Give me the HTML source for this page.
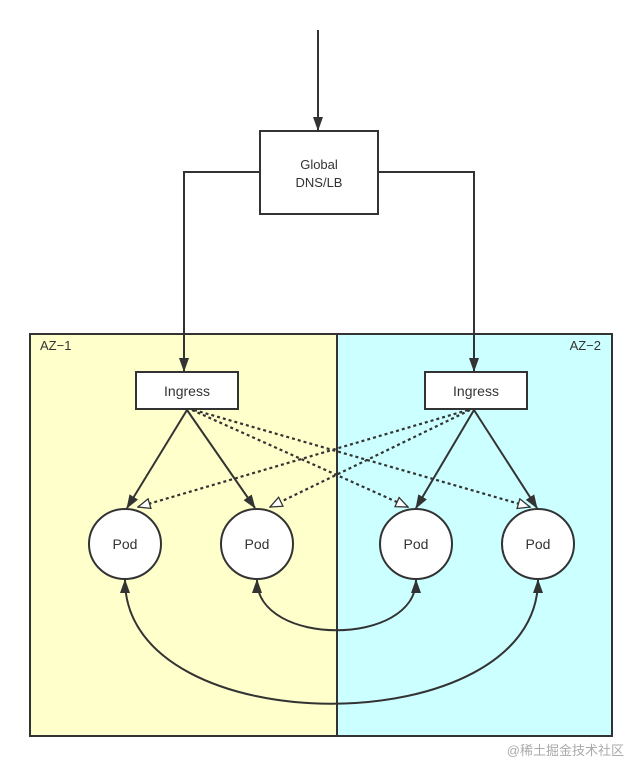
<!DOCTYPE html>
<html><head><style>body{margin:0;background:#fff}</style></head><body>
<svg width="642" height="778" viewBox="0 0 642 778" xmlns="http://www.w3.org/2000/svg" font-family="Liberation Sans, sans-serif">
<defs>
<marker id="s" markerWidth="14" markerHeight="10" refX="13" refY="5" orient="auto-start-reverse" markerUnits="userSpaceOnUse"><path d="M0,0 L14,5 L0,10 Z" fill="#333"/></marker>
<marker id="h" markerWidth="14" markerHeight="12" refX="13" refY="6" orient="auto" markerUnits="userSpaceOnUse"><path d="M1,1 L13,6 L1,11 Z" fill="#fff" stroke="#333" stroke-width="1.3"/></marker>
</defs>
<rect x="30" y="334" width="307" height="402" fill="#ffffcc"/>
<rect x="337" y="334" width="275" height="402" fill="#ccffff"/>
<rect x="30" y="334" width="582" height="402" fill="none" stroke="#333" stroke-width="2"/>
<line x1="337" y1="334" x2="337" y2="736" stroke="#333" stroke-width="2"/>
<text x="40" y="350" font-size="13" fill="#333">AZ−1</text>
<text x="601" y="350" font-size="13" fill="#333" text-anchor="end">AZ−2</text>
<g stroke="#333" stroke-width="2" fill="none">
<line x1="318" y1="30" x2="318" y2="130" marker-end="url(#s)"/>
<polyline points="260,172 184,172 184,371" marker-end="url(#s)"/>
<polyline points="378,172 474,172 474,371" marker-end="url(#s)"/>
<line x1="187" y1="410" x2="127" y2="508" marker-end="url(#s)"/>
<line x1="187" y1="410" x2="255" y2="508" marker-end="url(#s)"/>
<line x1="474" y1="410" x2="416" y2="508" marker-end="url(#s)"/>
<line x1="474" y1="410" x2="537" y2="508" marker-end="url(#s)"/>
</g>
<g stroke="#333" stroke-width="2.2" fill="none" stroke-dasharray="3,3">
<line x1="192" y1="410" x2="408" y2="507" marker-end="url(#h)"/>
<line x1="194" y1="410" x2="530" y2="507" marker-end="url(#h)"/>
<line x1="468" y1="410" x2="138" y2="507" marker-end="url(#h)"/>
<line x1="470" y1="410" x2="270" y2="507" marker-end="url(#h)"/>
</g>
<g stroke="#333" stroke-width="2" fill="none">
<path d="M257,580 C257,647 416,647 416,580" marker-start="url(#s)" marker-end="url(#s)"/>
<path d="M125,580 C125,745 538,745 538,580" marker-start="url(#s)" marker-end="url(#s)"/>
</g>
<rect x="260" y="131" width="118" height="83" fill="#fff" stroke="#333" stroke-width="2"/>
<text x="319" y="169" font-size="13" fill="#333" text-anchor="middle">Global</text>
<text x="319" y="187" font-size="13" fill="#333" text-anchor="middle">DNS/LB</text>
<rect x="136" y="372" width="102" height="37" fill="#fff" stroke="#333" stroke-width="2"/>
<text x="187" y="396" font-size="14" fill="#333" text-anchor="middle">Ingress</text>
<rect x="425" y="372" width="102" height="37" fill="#fff" stroke="#333" stroke-width="2"/>
<text x="476" y="396" font-size="14" fill="#333" text-anchor="middle">Ingress</text>
<g fill="#fff" stroke="#333" stroke-width="2">
<ellipse cx="125" cy="544" rx="36" ry="35"/>
<ellipse cx="257" cy="544" rx="36" ry="35"/>
<ellipse cx="416" cy="544" rx="36" ry="35"/>
<ellipse cx="538" cy="544" rx="36" ry="35"/>
</g>
<g font-size="14" fill="#333" text-anchor="middle">
<text x="125" y="549">Pod</text><text x="257" y="549">Pod</text><text x="416" y="549">Pod</text><text x="538" y="549">Pod</text>
</g>
<text x="624" y="755" font-size="13" fill="#aaa" text-anchor="end" font-family="Liberation Sans, Noto Sans CJK SC, sans-serif">@稀土掘金技术社区</text>
</svg>
</body></html>
